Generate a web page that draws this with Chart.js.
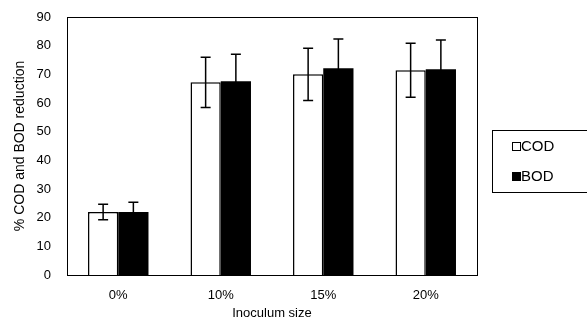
<html>
<head>
	<title>COD and BOD reduction</title>
	<script type="text/javascript" src="https://cdn.jsdelivr.net/npm/chart.js@4/dist/chart.umd.min.js"></script>
	<style>
		body { margin: 0; background: #fff; }
	</style>
</head>
<body>
	<canvas id="canvas" width="587" height="323"></canvas>
	<script type="text/javascript">
		var categories = ["0%", "10%", "15%", "20%"];
		var codValues  = [22, 67.2, 70, 71.4];
		var codErrors  = [2.7, 8.8, 9.1, 9.4];
		var bodValues  = [22, 67.6, 72.1, 71.8];
		var bodErrors  = [3.4, 9.4, 10.2, 10.2];
		var yTicks     = [0, 10, 20, 30, 40, 50, 60, 70, 80, 90];

		var FONT = "'Liberation Sans', Arial, sans-serif";

		// error bars with flat caps on top of each bar
		var errorBars = {
			id: "errorBars",
			afterDatasetsDraw: function(chart) {
				var ctx = chart.ctx;
				var y = chart.scales.y;
				ctx.save();
				ctx.strokeStyle = "#000";
				ctx.lineWidth = 1.5;
				chart.data.datasets.forEach(function(ds, i) {
					var meta = chart.getDatasetMeta(i);
					meta.data.forEach(function(bar, j) {
						var v = ds.data[j], e = ds.errors[j];
						var top = y.getPixelForValue(v + e);
						var bot = y.getPixelForValue(v - e);
						ctx.beginPath();
						ctx.moveTo(bar.x, top); ctx.lineTo(bar.x, bot);
						ctx.moveTo(bar.x - 5, top); ctx.lineTo(bar.x + 5, top);
						ctx.moveTo(bar.x - 5, bot); ctx.lineTo(bar.x + 5, bot);
						ctx.stroke();
					});
				});
				ctx.restore();
			}
		};

		// frame around the plot and the boxed legend on the right
		var frameAndLegend = {
			id: "frameAndLegend",
			afterDraw: function(chart) {
				var ctx = chart.ctx;
				var a = chart.chartArea;
				ctx.save();
				ctx.strokeStyle = "#000";
				ctx.lineWidth = 1;
				ctx.strokeRect(a.left + 0.5, a.top + 0.5, a.right - a.left, a.bottom - a.top);

				var lx = 492, ly = 130;
				ctx.strokeRect(lx + 0.5, ly + 0.5, 100, 62);
				ctx.font = "15px " + FONT;
				ctx.textBaseline = "middle";
				chart.data.datasets.forEach(function(ds, i) {
					var cy = ly + 16 + i * 30;
					ctx.fillStyle = ds.backgroundColor;
					ctx.fillRect(lx + 20, cy - 4, 9, 9);
					ctx.strokeRect(lx + 20.5, cy - 3.5, 8, 8);
					ctx.fillStyle = "#000";
					ctx.fillText(ds.label, lx + 29, cy + 1);
				});
				ctx.restore();
			}
		};

		var ctx = document.getElementById("canvas").getContext("2d");
		new Chart(ctx, {
			type: "bar",
			data: {
				labels: categories,
				datasets: [
					{
						label: "COD",
						data: codValues,
						errors: codErrors,
						backgroundColor: "#fff",
						borderColor: "#000",
						borderWidth: 1.5,
						borderSkipped: "bottom"
					},
					{
						label: "BOD",
						data: bodValues,
						errors: bodErrors,
						backgroundColor: "#000",
						borderColor: "#000",
						borderWidth: 0
					}
				]
			},
			options: {
				responsive: false,
				animation: false,
				layout: { padding: { left: 4, top: 17, right: 110, bottom: 2 } },
				datasets: { bar: { categoryPercentage: 0.59, barPercentage: 1.0 } },
				plugins: {
					legend: { display: false },
					tooltip: { enabled: false }
				},
				scales: {
					x: {
						grid: { display: false, drawTicks: false },
						border: { color: "#000", width: 1 },
						ticks: { color: "#000", font: { family: FONT, size: 13 }, padding: 13 },
						title: {
							display: true,
							text: "Inoculum size",
							color: "#000",
							font: { family: FONT, size: 13 },
							padding: { top: 0, bottom: 0 }
						},
						afterFit: function(scale) { scale.height = 46; }
					},
					y: {
						min: 0,
						max: 90,
						afterBuildTicks: function(scale) {
							scale.ticks = yTicks.map(function(v) { return { value: v }; });
						},
						grid: { display: false, drawTicks: false },
						border: { color: "#000", width: 1 },
						ticks: { color: "#000", font: { family: FONT, size: 13 }, padding: 16 },
						title: {
							display: true,
							text: "% COD and BOD reduction",
							color: "#000",
							font: { family: FONT, size: 14 },
							padding: { top: 8, bottom: 0 }
						},
						afterFit: function(scale) {
							scale.width = 63;
							scale.paddingTop = 0;
							scale.paddingBottom = 0;
						}
					}
				}
			},
			plugins: [errorBars, frameAndLegend]
		});
	</script>
</body>
</html>
